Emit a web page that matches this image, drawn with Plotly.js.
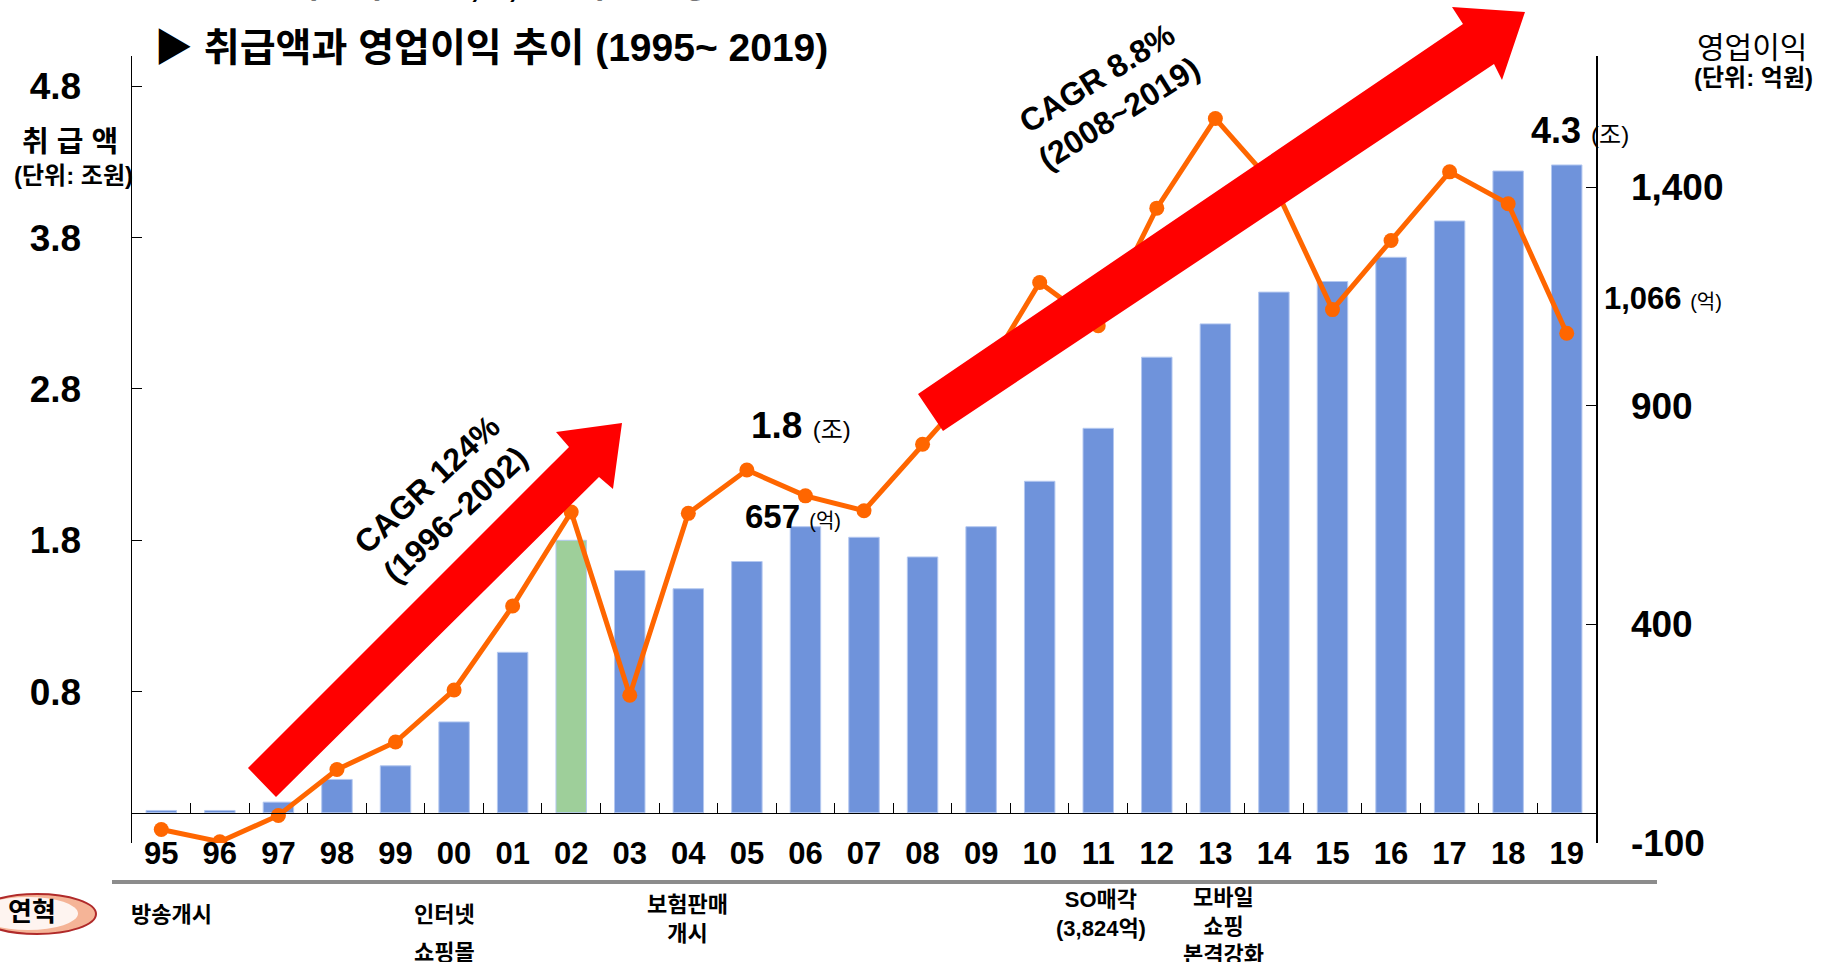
<!DOCTYPE html>
<html>
<head>
<meta charset="utf-8">
<script src="https://cdn.plot.ly/plotly-3.0.1.min.js"></script>
<style>
html,body{margin:0;padding:0;background:#ffffff;}
#chart{width:1831px;height:962px;}
</style>
</head>
<body>
<div id="chart"></div>
<script>
// ---------- data ----------
const years = ['95','96','97','98','99','00','01','02','03','04','05','06','07','08','09','10','11','12','13','14','15','16','17','18','19'];
// 취급액 (조원)
const sales = [0.015,0.015,0.07,0.22,0.31,0.60,1.06,1.80,1.60,1.48,1.66,1.89,1.82,1.69,1.89,2.19,2.54,3.01,3.23,3.44,3.51,3.67,3.91,4.24,4.28];
// 영업이익 (억원)
const profit = [-69,-97,-37,68,131,250,442,657,238,654,753,694,660,812,960,1182,1083,1352,1557,1405,1120,1278,1435,1362,1066];
const highlightYear = '02';
const leftTickVals = [-0.2,0.8,1.8,2.8,3.8,4.8];
const leftTickText = ['','0.8','1.8','2.8','3.8','4.8'];
const rightTickVals = [-100,400,900,1400];
const rightTickText = ['-100','400','900','1,400'];
const leftRange = [-0.2,5.0];
const rightRange = [-100,1700];

// ---------- geometry helpers (plot area in px) ----------
const L = 132, R = 1596, T = 56, B = 843;
const px = (X, Y) => [(X - L) / (R - L), (B - Y) / (B - T)];
const FONT = 'Liberation Sans, Arial, Noto Sans CJK KR, sans-serif';

function ann(text, X, Y, size, extra) {
  const p = px(X, Y);
  return Object.assign({
    xref: 'paper', yref: 'paper', x: p[0], y: p[1],
    xanchor: 'center', yanchor: 'middle', showarrow: false,
    text: text, font: {family: FONT, size: size, color: '#000'}
  }, extra || {});
}
function polyPath(points) {
  return points.map((pt, i) => {
    const p = px(pt[0], pt[1]);
    return (i === 0 ? 'M' : 'L') + p[0].toFixed(5) + ',' + p[1].toFixed(5);
  }).join(' ') + ' Z';
}

// decorative arrows (px)
const arrow1 = [[248,768],[569,447],[556,432],[622,423],[613,489],[599,477],[276,797]];
const arrow2 = [[918,394],[1463,24],[1452,7],[1525,12],[1502,80],[1494,64],[943,431]];

const barTrace = {
  type: 'bar', x: years, y: sales, xaxis: 'x', yaxis: 'y',
  width: 0.52,
  marker: {color: years.map(y => y === highlightYear ? '#9ecf9a' : '#6f93db'),
           line: {color: '#b4c8f0', width: 1}},
  hoverinfo: 'skip'
};
const lineTrace = {
  type: 'scatter', mode: 'lines+markers', x: years, y: profit, xaxis: 'x', yaxis: 'y2',
  line: {color: '#ff6600', width: 5},
  marker: {color: '#ff6600', size: 15},
  hoverinfo: 'skip'
};

const zeroPos = (0 - leftRange[0]) / (leftRange[1] - leftRange[0]);

const shapes = [
  {type: 'path', xref: 'paper', yref: 'paper', path: polyPath(arrow1), fillcolor: '#ff0000', line: {width: 0}, layer: 'above'},
  {type: 'path', xref: 'paper', yref: 'paper', path: polyPath(arrow2), fillcolor: '#ff0000', line: {width: 0}, layer: 'above'},
  // bottom gray divider
  (function(){ const a = px(112, 882), b = px(1657, 882);
    return {type: 'line', xref: 'paper', yref: 'paper', x0: a[0], y0: a[1], x1: b[0], y1: b[1], line: {color: '#8c8c8c', width: 4}}; })(),
  // 연혁 badge
  (function(){ const a = px(-22, 894), b = px(96, 934);
    return {type: 'circle', xref: 'paper', yref: 'paper', x0: a[0], y0: a[1], x1: b[0], y1: b[1], fillcolor: '#f5b497', line: {color: '#b02a2a', width: 2}}; })(),
  (function(){ const a = px(-22, 897), b = px(78, 930);
    return {type: 'circle', xref: 'paper', yref: 'paper', x0: a[0], y0: a[1], x1: b[0], y1: b[1], fillcolor: 'rgba(255,255,255,0.85)', line: {width: 0}}; })()
];

const annotations = [
  ann('<b>2019년 취급액 4.3조, 1,066억원 달성</b>', 170, -15, 34, {xanchor: 'left'}),
  ann('<b>▶ 취급액과 영업이익 추이 (1995~ 2019)</b>', 152, 47, 39, {xanchor: 'left'}),
  ann('<b>취 급 액</b>', 70, 142, 29),
  ann('<b>(단위: 조원)</b>', 73, 175, 24),
  ann('영업이익', 1752, 47, 30),
  ann('<b>(단위: 억원)</b>', 1753, 78, 24),
  ann('<b>1.8</b> <span style="font-size:24px">(조)</span>', 801, 425, 37),
  ann('<b>657</b> <span style="font-size:20px">(억)</span>', 793, 516, 33),
  ann('<b>4.3</b> <span style="font-size:24px">(조)</span>', 1580, 130, 36),
  ann('<b>1,066</b> <span style="font-size:20px">(억)</span>', 1663, 298, 31),
  ann('<b>CAGR 124%<br>(1996~2002)</b>', 441, 500, 32, {textangle: -43}),
  ann('<b>CAGR 8.8%<br>(2008~2019)</b>', 1108, 96, 32, {textangle: -32}),
  ann('<b>연혁</b>', 32, 912, 26),
  ann('<b>방송개시</b>', 171, 915, 22),
  ann('<b>인터넷</b>', 444, 914, 22),
  ann('<b>쇼핑몰</b>', 444, 952, 22),
  ann('<b>보험판매<br>개시</b>', 687, 919, 22),
  ann('<b>SO매각<br>(3,824억)</b>', 1101, 914, 22),
  ann('<b>모바일<br>쇼핑<br>본격강화</b>', 1223, 926, 22)
];

const layout = {
  width: 1831, height: 962,
  margin: {l: L, r: 1831 - R, t: T, b: 962 - B, pad: 0},
  paper_bgcolor: '#ffffff', plot_bgcolor: '#ffffff',
  showlegend: false, hovermode: false,
  font: {family: FONT, color: '#000'},
  xaxis: {
    type: 'category', categoryorder: 'array', categoryarray: years,
    range: [-0.5, years.length - 0.5],
    anchor: 'free', position: zeroPos,
    showline: true, linecolor: '#000', linewidth: 1.5,
    ticks: 'inside', tickson: 'boundaries', ticklen: 10, tickcolor: '#000', tickwidth: 1,
    tickfont: {family: FONT, size: 31, color: '#000', weight: 'bold'},
    ticklabelstandoff: 13,
    showgrid: false, zeroline: false
  },
  yaxis: {
    range: leftRange, tickvals: leftTickVals, ticktext: leftTickText,
    showline: true, linecolor: '#000', linewidth: 1.5,
    ticks: 'inside', ticklen: 10, tickcolor: '#000', tickwidth: 1,
    tickfont: {family: FONT, size: 37, color: '#000', weight: 'bold'},
    ticklabelstandoff: 42,
    showgrid: false, zeroline: false
  },
  yaxis2: {
    overlaying: 'y', side: 'right', anchor: 'x',
    range: rightRange, tickvals: rightTickVals, ticktext: rightTickText,
    showline: true, linecolor: '#000', linewidth: 1.5,
    ticks: 'inside', ticklen: 10, tickcolor: '#000', tickwidth: 1,
    tickfont: {family: FONT, size: 37, color: '#000', weight: 'bold'},
    ticklabelstandoff: 26,
    showgrid: false, zeroline: false
  },
  shapes: shapes,
  annotations: annotations
};

Plotly.newPlot('chart', [barTrace, lineTrace], layout, {staticPlot: true, displayModeBar: false});
</script>
</body>
</html>
